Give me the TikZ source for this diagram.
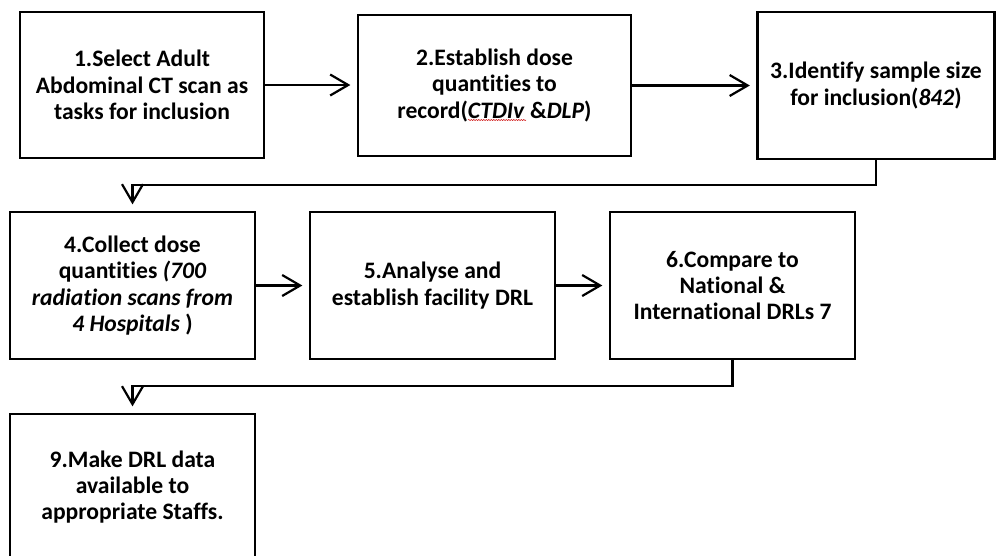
\documentclass[tikz,border=0pt]{standalone}
\usepackage{fontspec}
\setmainfont{Carlito}[Ligatures=NoCommon]
\usetikzlibrary{arrows.meta,decorations.pathmorphing}
\begin{document}
\begin{tikzpicture}[x=1pt,y=-1pt,
  stepbox/.style={draw=black,line width=2.3pt,rectangle,inner sep=0pt,align=center,
    font=\fontsize{23.6}{26.3}\selectfont\bfseries},
  conn/.style={line width=2.2pt,-{Straight Barb[length=18pt,width=21pt,line width=2.2pt]},shorten >=6.5pt}]
\useasboundingbox (0,0) rectangle (996,555);
\begin{scope}
\clip (0,0) rectangle (996,555);
\node[stepbox,minimum width=244pt,minimum height=146pt] (b1) at (142,85)
  {1.Select Adult\\Abdominal CT scan as\\tasks for inclusion};
\node[stepbox,minimum width=273pt,minimum height=141pt] (b2) at (494.5,85.5)
  {2.Establish dose\\quantities to\\record(\textit{CTDIv} \&\textit{DLP})};
\node[stepbox,minimum width=237pt,minimum height=147pt] (b3) at (876,85.5)
  {3.Identify sample size\\for inclusion(\textit{842})};
\node[stepbox,minimum width=245pt,minimum height=147pt] (b4) at (132.5,285.5)
  {4.Collect dose\\quantities \textit{(700}\\\textit{radiation scans from}\\\textit{4 Hospitals} )};
\node[stepbox,minimum width=245pt,minimum height=147pt] (b5) at (432.5,285.5)
  {5.Analyse and\\establish facility DRL};
\node[stepbox,minimum width=245pt,minimum height=147pt] (b6) at (732.5,285.5)
  {6.Compare to\\National \&\\International DRLs 7};
\node[stepbox,minimum width=245pt,minimum height=146pt] (b9) at (132.5,487)
  {9.Make DRL data\\available to\\appropriate Staffs.};
\end{scope}
\coordinate (k1) at (b3.south |- 0,185);
\coordinate (k2) at (b6.south |- 0,386);
\draw[conn] (b1.east) -- (b1.east -| b2.west);
\draw[conn] (b2.east) -- (b2.east -| b3.west);
\draw[conn] (b3.south) -- (k1) -| (b4.north);
\draw[conn] (b4.east) -- (b5.west);
\draw[conn] (b5.east) -- (b6.west);
\draw[conn] (b6.south) -- (k2) -| (b9.north);
\draw[red!80!black,line width=0.5pt,decorate,decoration={snake,amplitude=0.6pt,segment length=2.5pt}]
  (468,120) -- (526,120);
\end{tikzpicture}
\end{document}
